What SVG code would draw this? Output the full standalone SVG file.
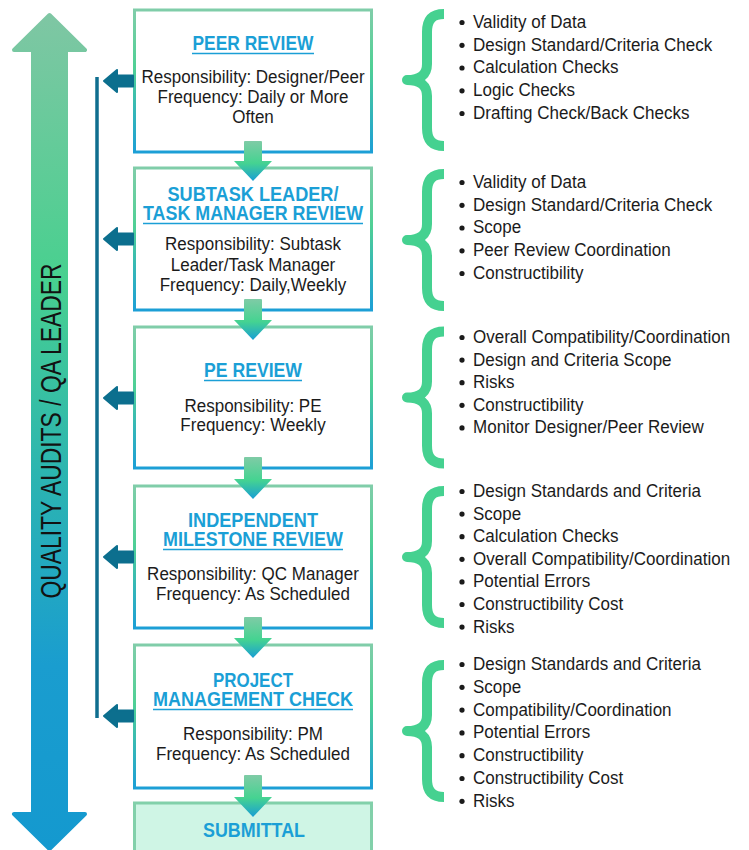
<svg xmlns="http://www.w3.org/2000/svg" width="749" height="850" viewBox="0 0 749 850">
  <defs>
    <linearGradient id="auditGrad" gradientUnits="userSpaceOnUse" x1="0" y1="10" x2="0" y2="850">
      <stop offset="0" stop-color="#80c6a4"/>
      <stop offset="0.32" stop-color="#48d08f"/>
      <stop offset="0.55" stop-color="#2cb5b0"/>
      <stop offset="0.78" stop-color="#1a9dcf"/>
      <stop offset="1" stop-color="#1499cf"/>
    </linearGradient>
    <linearGradient id="boxStroke" x1="0" y1="0" x2="0" y2="1">
      <stop offset="0" stop-color="#80cda9"/>
      <stop offset="0.4" stop-color="#50d095"/>
      <stop offset="1" stop-color="#1c9fd6"/>
    </linearGradient>
    <linearGradient id="flowGrad" x1="0" y1="0" x2="0" y2="1">
      <stop offset="0" stop-color="#7fcba6"/>
      <stop offset="0.55" stop-color="#45d391"/>
      <stop offset="1" stop-color="#189ed4"/>
    </linearGradient>
    <path id="brace" d="M444,-66 C432,-66 427,-60 427,-48 L427,-16 C427,-6 421,0 407,0 C421,0 427,6 427,16 L427,48 C427,60 432,66 444,66"/>
  </defs>
  <style>
    .box { fill: #ffffff; stroke: url(#boxStroke); stroke-width: 3; }
    .submit { fill: #cff5e5; stroke: #82d0aa; stroke-width: 3; }
    .title { font-family: "Liberation Sans", Arial, sans-serif; font-weight: bold; font-size: 21px; fill: #1b9fd6; text-anchor: middle; }
    .uline { stroke: #1b9fd6; stroke-width: 1.5; }
    .body { font-family: "Liberation Sans", Arial, sans-serif; font-size: 18.5px; fill: #1b1b1b; text-anchor: middle; }
    .item { font-family: "Liberation Sans", Arial, sans-serif; font-size: 18.5px; fill: #1b1b1b; }
    .dot { fill: #1b1b1b; }
    .brace { fill: none; stroke: #45d190; stroke-width: 10; stroke-linejoin: round; }
    .audit-link { fill: #0c6f8e; stroke: #0c6f8e; stroke-width: 2; stroke-linejoin: round; }
    .flow { fill: url(#flowGrad); stroke: none; }
    .side { font-family: "Liberation Sans", Arial, sans-serif; font-size: 30px; fill: #121212; text-anchor: middle; }
  </style>

  <!-- double-headed quality audit arrow -->
  <g id="quality-audits">
    <path d="M49.5,15 L85,50 L66,50 L66,814 L85,814 L49.5,849 L14,814 L33,814 L33,50 L14,50 Z" fill="url(#auditGrad)" stroke="url(#auditGrad)" stroke-width="4" stroke-linejoin="round"/>
    <text class="side" transform="translate(61,431) rotate(-90)" textLength="335" lengthAdjust="spacingAndGlyphs">QUALITY AUDITS / QA LEADER</text>
  </g>

  <!-- review boxes -->
  <g id="node-peer-review">
    <rect class="box" x="134.5" y="10" width="237" height="142"/>
    <text class="title" x="253" y="50" textLength="121" lengthAdjust="spacingAndGlyphs">PEER REVIEW</text>
    <line class="uline" x1="192" y1="53.5" x2="314" y2="53.5"/>
    <g transform="translate(253,0) scale(0.92,1)">
      <text class="body" x="0" y="83">Responsibility: Designer/Peer</text>
      <text class="body" x="0" y="103">Frequency: Daily or More</text>
      <text class="body" x="0" y="123">Often</text>
    </g>
  </g>

  <g id="node-subtask-review">
    <rect class="box" x="134.5" y="168" width="237" height="142"/>
    <text class="title" x="253" y="201" textLength="171" lengthAdjust="spacingAndGlyphs">SUBTASK LEADER/</text>
    <text class="title" x="253" y="220" textLength="220" lengthAdjust="spacingAndGlyphs">TASK MANAGER REVIEW</text>
    <line class="uline" x1="143" y1="223.5" x2="363" y2="223.5"/>
    <g transform="translate(253,0) scale(0.92,1)">
      <text class="body" x="0" y="250">Responsibility: Subtask</text>
      <text class="body" x="0" y="271">Leader/Task Manager</text>
      <text class="body" x="0" y="291">Frequency: Daily,Weekly</text>
    </g>
  </g>

  <g id="node-pe-review">
    <rect class="box" x="134.5" y="327" width="237" height="141"/>
    <text class="title" x="253" y="377" textLength="98" lengthAdjust="spacingAndGlyphs">PE REVIEW</text>
    <line class="uline" x1="204" y1="380.5" x2="302" y2="380.5"/>
    <g transform="translate(253,0) scale(0.92,1)">
      <text class="body" x="0" y="412">Responsibility: PE</text>
      <text class="body" x="0" y="431">Frequency: Weekly</text>
    </g>
  </g>

  <g id="node-milestone-review">
    <rect class="box" x="134.5" y="486" width="237" height="142"/>
    <text class="title" x="253" y="527" textLength="130" lengthAdjust="spacingAndGlyphs">INDEPENDENT</text>
    <text class="title" x="253" y="546" textLength="180" lengthAdjust="spacingAndGlyphs">MILESTONE REVIEW</text>
    <line class="uline" x1="163" y1="549.5" x2="343" y2="549.5"/>
    <g transform="translate(253,0) scale(0.92,1)">
      <text class="body" x="0" y="580">Responsibility: QC Manager</text>
      <text class="body" x="0" y="600">Frequency: As Scheduled</text>
    </g>
  </g>

  <g id="node-pm-check">
    <rect class="box" x="134.5" y="645" width="237" height="143"/>
    <text class="title" x="253" y="687" textLength="80" lengthAdjust="spacingAndGlyphs">PROJECT</text>
    <text class="title" x="253" y="706" textLength="200" lengthAdjust="spacingAndGlyphs">MANAGEMENT CHECK</text>
    <line class="uline" x1="153" y1="709.5" x2="353" y2="709.5"/>
    <g transform="translate(253,0) scale(0.92,1)">
      <text class="body" x="0" y="740">Responsibility: PM</text>
      <text class="body" x="0" y="760">Frequency: As Scheduled</text>
    </g>
  </g>

  <g id="node-submittal">
    <rect class="submit" x="134.5" y="803" width="237" height="60"/>
    <text class="title" x="254" y="837" textLength="102" lengthAdjust="spacingAndGlyphs">SUBMITTAL</text>
  </g>

  <!-- connectors: audit feedback links and review flow -->
  <g id="connectors">
    <line x1="97" y1="77" x2="97" y2="718" stroke="#0f6e8f" stroke-width="3.5"/>
    <path class="audit-link" d="M104,81 L117,70 L117,75.5 L133,75.5 L133,86.5 L117,86.5 L117,92 Z"/>
    <path class="audit-link" d="M104,239 L117,228 L117,233.5 L133,233.5 L133,244.5 L117,244.5 L117,250 Z"/>
    <path class="audit-link" d="M104,398 L117,387 L117,392.5 L133,392.5 L133,403.5 L117,403.5 L117,409 Z"/>
    <path class="audit-link" d="M104,557 L117,546 L117,551.5 L133,551.5 L133,562.5 L117,562.5 L117,568 Z"/>
    <path class="audit-link" d="M104,716 L117,705 L117,710.5 L133,710.5 L133,721.5 L117,721.5 L117,727 Z"/>

    <path class="flow" d="M245,141 H261 Q262,141 262,142 V161 H272 L253,181 L234,161 H244 V142 Q244,141 245,141 Z"/>
    <path class="flow" d="M245,299 H261 Q262,299 262,300 V320 H272 L253,340 L234,320 H244 V300 Q244,299 245,299 Z"/>
    <path class="flow" d="M245,457 H261 Q262,457 262,458 V479 H272 L253,499 L234,479 H244 V458 Q244,457 245,457 Z"/>
    <path class="flow" d="M245,617 H261 Q262,617 262,618 V638 H272 L253,658 L234,638 H244 V618 Q244,617 245,617 Z"/>
    <path class="flow" d="M245,775 H261 Q262,775 262,776 V797 H272 L253,817 L234,797 H244 V776 Q244,775 245,775 Z"/>
  </g>

  <!-- check lists beside each review -->
  <g id="checks-peer">
    <use href="#brace" class="brace" transform="translate(0,80)"/>
    <circle class="dot" cx="462" cy="22.5" r="2.6"/>
    <circle class="dot" cx="462" cy="45.3" r="2.6"/>
    <circle class="dot" cx="462" cy="68" r="2.6"/>
    <circle class="dot" cx="462" cy="90.8" r="2.6"/>
    <circle class="dot" cx="462" cy="113.5" r="2.6"/>
    <g transform="translate(473,0) scale(0.92,1)">
      <text class="item" x="0" y="28">Validity of Data</text>
      <text class="item" x="0" y="50.8">Design Standard/Criteria Check</text>
      <text class="item" x="0" y="73.5">Calculation Checks</text>
      <text class="item" x="0" y="96.3">Logic Checks</text>
      <text class="item" x="0" y="119">Drafting Check/Back Checks</text>
    </g>
  </g>

  <g id="checks-subtask">
    <use href="#brace" class="brace" transform="translate(0,240)"/>
    <circle class="dot" cx="462" cy="182.5" r="2.6"/>
    <circle class="dot" cx="462" cy="205.3" r="2.6"/>
    <circle class="dot" cx="462" cy="228" r="2.6"/>
    <circle class="dot" cx="462" cy="250.8" r="2.6"/>
    <circle class="dot" cx="462" cy="273.5" r="2.6"/>
    <g transform="translate(473,0) scale(0.92,1)">
      <text class="item" x="0" y="188">Validity of Data</text>
      <text class="item" x="0" y="210.8">Design Standard/Criteria Check</text>
      <text class="item" x="0" y="233.5">Scope</text>
      <text class="item" x="0" y="256.3">Peer Review Coordination</text>
      <text class="item" x="0" y="279">Constructibility</text>
    </g>
  </g>

  <g id="checks-pe">
    <use href="#brace" class="brace" transform="translate(0,397.5)"/>
    <circle class="dot" cx="462" cy="337.5" r="2.6"/>
    <circle class="dot" cx="462" cy="360.1" r="2.6"/>
    <circle class="dot" cx="462" cy="382.7" r="2.6"/>
    <circle class="dot" cx="462" cy="405.3" r="2.6"/>
    <circle class="dot" cx="462" cy="427.9" r="2.6"/>
    <g transform="translate(473,0) scale(0.92,1)">
      <text class="item" x="0" y="343">Overall Compatibility/Coordination</text>
      <text class="item" x="0" y="365.6">Design and Criteria Scope</text>
      <text class="item" x="0" y="388.2">Risks</text>
      <text class="item" x="0" y="410.8">Constructibility</text>
      <text class="item" x="0" y="433.4">Monitor Designer/Peer Review</text>
    </g>
  </g>

  <g id="checks-milestone">
    <use href="#brace" class="brace" transform="translate(0,557)"/>
    <circle class="dot" cx="462" cy="491.5" r="2.6"/>
    <circle class="dot" cx="462" cy="514.1" r="2.6"/>
    <circle class="dot" cx="462" cy="536.7" r="2.6"/>
    <circle class="dot" cx="462" cy="559.3" r="2.6"/>
    <circle class="dot" cx="462" cy="581.9" r="2.6"/>
    <circle class="dot" cx="462" cy="604.5" r="2.6"/>
    <circle class="dot" cx="462" cy="627.1" r="2.6"/>
    <g transform="translate(473,0) scale(0.92,1)">
      <text class="item" x="0" y="497">Design Standards and Criteria</text>
      <text class="item" x="0" y="519.6">Scope</text>
      <text class="item" x="0" y="542.2">Calculation Checks</text>
      <text class="item" x="0" y="564.8">Overall Compatibility/Coordination</text>
      <text class="item" x="0" y="587.4">Potential Errors</text>
      <text class="item" x="0" y="610">Constructibility Cost</text>
      <text class="item" x="0" y="632.6">Risks</text>
    </g>
  </g>

  <g id="checks-pm">
    <use href="#brace" class="brace" transform="translate(0,731)"/>
    <circle class="dot" cx="462" cy="664.5" r="2.6"/>
    <circle class="dot" cx="462" cy="687.3" r="2.6"/>
    <circle class="dot" cx="462" cy="710.1" r="2.6"/>
    <circle class="dot" cx="462" cy="732.9" r="2.6"/>
    <circle class="dot" cx="462" cy="755.7" r="2.6"/>
    <circle class="dot" cx="462" cy="778.5" r="2.6"/>
    <circle class="dot" cx="462" cy="801.3" r="2.6"/>
    <g transform="translate(473,0) scale(0.92,1)">
      <text class="item" x="0" y="670">Design Standards and Criteria</text>
      <text class="item" x="0" y="692.8">Scope</text>
      <text class="item" x="0" y="715.6">Compatibility/Coordination</text>
      <text class="item" x="0" y="738.4">Potential Errors</text>
      <text class="item" x="0" y="761.2">Constructibility</text>
      <text class="item" x="0" y="784">Constructibility Cost</text>
      <text class="item" x="0" y="806.8">Risks</text>
    </g>
  </g>
</svg>
